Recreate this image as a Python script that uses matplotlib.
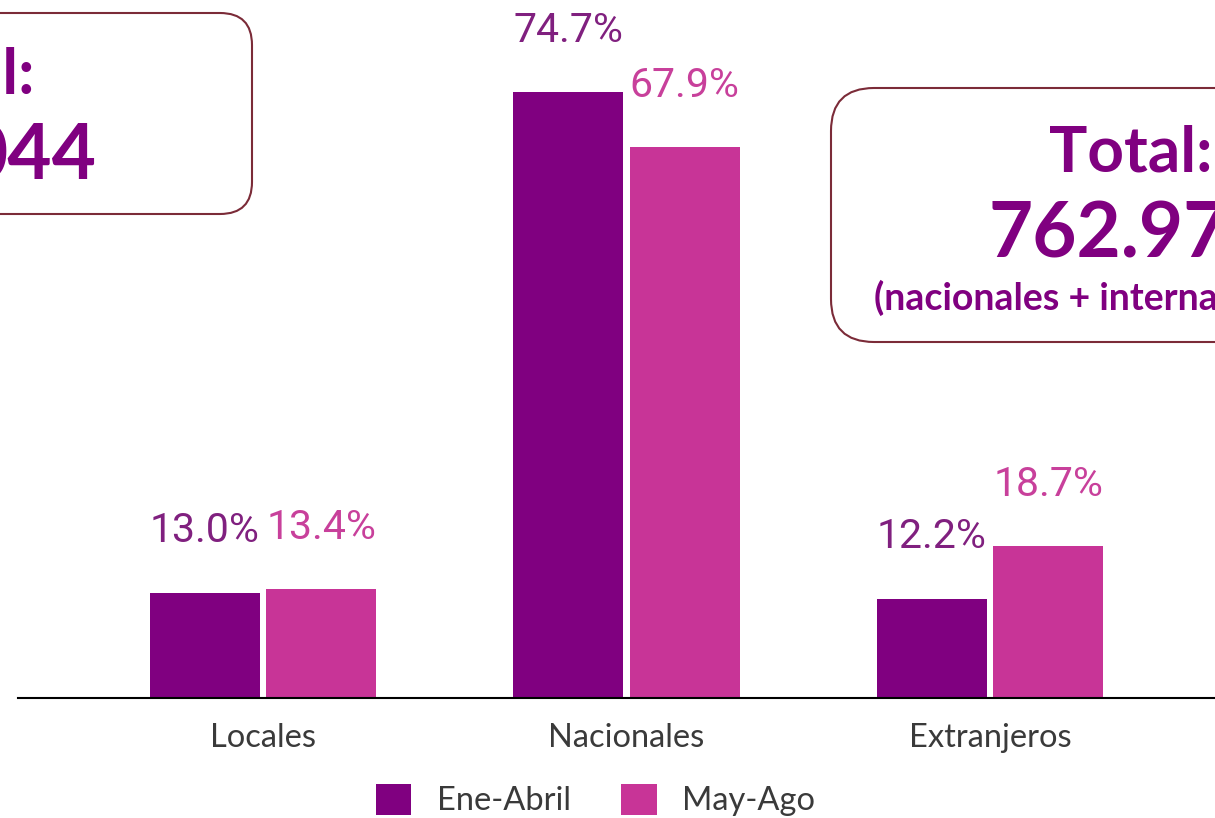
import matplotlib
matplotlib.use("Agg")
import matplotlib.pyplot as plt
import numpy as np
from matplotlib.patches import FancyBboxPatch

categories = ["Locales", "Nacionales", "Extranjeros"]
series_names = ["Ene-Abril", "May-Ago"]
ene_abril = [13.0, 74.7, 12.2]
may_ago = [13.4, 67.9, 18.7]
bar_colors = ["#800080", "#C83497"]
label_colors = ["#80207F", "#C8409B"]

W, H = 1215, 818
fig = plt.figure(figsize=(W / 100, H / 100), dpi=100)
fig.patch.set_facecolor("white")

# axes: baseline at y=698px, left edge at 18px, right edge at figure edge
ax = fig.add_axes([18 / W, (H - 698) / H, (W - 18) / W, 698 / H])
ax.set_xlim(-0.674, 2.619)
ax.set_ylim(0, 86.07)

x = np.arange(len(categories))
bw = 0.3026
off = 0.160
b1 = ax.bar(x - off, ene_abril, bw, color=bar_colors[0], label=series_names[0])
b2 = ax.bar(x + off, may_ago, bw, color=bar_colors[1], label=series_names[1])

for bars, vals, col in [(b1, ene_abril, label_colors[0]), (b2, may_ago, label_colors[1])]:
    for r, v in zip(bars, vals):
        ax.annotate(f"{v:.1f}%", (r.get_x() + r.get_width() / 2, v),
                    xytext=(0, 36.5), textcoords="offset points",
                    ha="center", va="baseline", fontsize=29.5,
                    family="Roboto", color=col)

for s in ["top", "right", "left"]:
    ax.spines[s].set_visible(False)
ax.spines["bottom"].set_linewidth(1.5)
ax.spines["bottom"].set_color("black")
ax.set_yticks([])
ax.set_xticks(x)
ax.set_xticklabels(categories, family="Lato", fontsize=23.5, color="#3a3a3a")
ax.tick_params(axis="x", length=0, pad=18)

# legend
fig.legend(handles=[b1, b2], labels=series_names, loc="center",
           bbox_to_anchor=(595.5 / W, 18 / H), ncol=2, frameon=False,
           prop={"family": "Lato", "size": 23.5}, handlelength=1.09,
           handleheight=1.09, handletextpad=0.78, columnspacing=1.55,
           borderpad=0, borderaxespad=0, labelcolor="#3a3a3a")

# boxes (in pixel-based inches)
def px(xp, yp_top):
    return xp / 100, (H - yp_top) / 100

edge = "#7B2B38"
tcol = "#800080"
# left box
lx0, ly0 = px(-350, 214)
lbox = FancyBboxPatch((lx0, ly0), (252 + 350) / 100, (214 - 13) / 100,
                      boxstyle="round,pad=0,rounding_size=0.32",
                      transform=fig.dpi_scale_trans, facecolor="white",
                      edgecolor=edge, linewidth=1.5)
fig.add_artist(lbox)
# right box
rx0, ry0 = px(831, 342)
rbox = FancyBboxPatch((rx0, ry0), 6.2, (342 - 88) / 100,
                      boxstyle="round,pad=0,rounding_size=0.43",
                      transform=fig.dpi_scale_trans, facecolor="white",
                      edgecolor=edge, linewidth=1.5)
fig.add_artist(rbox)

bold = {"family": "Lato", "weight": "bold", "color": tcol}
fig.text(34 / W, (H - 93) / H, "Total:", ha="right", va="baseline", fontsize=46, **bold)
fig.text(96 / W, (H - 180) / H, "044", ha="right", va="baseline", fontsize=55, **bold)
fig.text(1212 / W, (H - 171) / H, "Total:", ha="right", va="baseline", fontsize=46, **bold)
fig.text(988 / W, (H - 257) / H, "762.977", ha="left", va="baseline", fontsize=55, **bold)
fig.text(874 / W, (H - 310) / H, "(nacionales + internacionales)", ha="left",
         va="baseline", fontsize=27, **bold)

fig.savefig("out.png", dpi=100, facecolor="white")
